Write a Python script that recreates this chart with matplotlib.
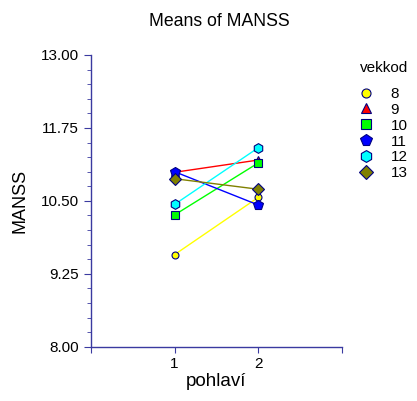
import matplotlib
matplotlib.use("Agg")
import matplotlib.pyplot as plt
from matplotlib.lines import Line2D
from matplotlib.ticker import MultipleLocator

plt.rcParams['font.family'] = ['Liberation Sans', 'DejaVu Sans']

pohlavi = [1, 2]
vekkod = ['8', '9', '10', '11', '12', '13']
means = [
    [9.58, 10.56],
    [10.99, 11.20],
    [10.26, 11.15],
    [11.00, 10.43],
    [10.44, 11.41],
    [10.88, 10.70],
]
colors = ['#ffff00', '#ff0000', '#00ff00', '#0000ff', '#00ffff', '#808000']
markers = ['o', '^', 's', 'p', 'h', 'D']
sizes = [5, 6, 5.5, 7, 7, 6]

axcol = '#3a3aa0'

fig = plt.figure(figsize=(4.17, 4.01), dpi=100)
ax = fig.add_axes([0.218, 0.135, 0.602, 0.728])

for i in range(len(vekkod)):
    ax.plot(pohlavi, means[i], color=colors[i], lw=1, marker=markers[i],
            ms=sizes[i], mfc=colors[i], mec='#000080', mew=0.8)

ax.set_xlim(0, 3)
ax.set_ylim(8, 13)
ax.set_xticks([0, 1, 2, 3])
ax.set_xticklabels(['', '1', '2', ''])
ax.set_yticks([8, 9.25, 10.5, 11.75, 13])
ax.set_yticklabels(['8.00', '9.25', '10.50', '11.75', '13.00'])
ax.yaxis.set_minor_locator(MultipleLocator(0.25))
for s in ['top', 'right']:
    ax.spines[s].set_visible(False)
for s in ['left', 'bottom']:
    ax.spines[s].set_color(axcol)
    ax.spines[s].set_linewidth(1)
ax.tick_params(axis='both', which='both', color=axcol, labelsize=11)
ax.tick_params(axis='y', which='major', length=5)
ax.tick_params(axis='y', which='minor', length=3)
ax.tick_params(axis='x', length=4)

ax.set_ylabel('MANSS', fontsize=13, labelpad=9)
ax.set_xlabel('pohlaví', fontsize=13.5, labelpad=1)
fig.suptitle('Means of MANSS', x=0.525, y=0.968, fontsize=12.7)

handles = [Line2D([], [], ls='none', marker=markers[i], ms=sizes[i] + 1.5,
                  mfc=colors[i], mec='#000080', mew=0.8)
           for i in range(len(vekkod))]
fig.text(360 / 417, 1 - 68 / 401, 'vekkod', fontsize=11, va='center', ha='left')
leg = fig.legend(handles, vekkod, loc='upper left',
                 bbox_to_anchor=(0.86, 1 - 87 / 401), frameon=False,
                 fontsize=11, handlelength=1.0, handletextpad=1.1,
                 labelspacing=0.12, borderaxespad=0, borderpad=0)

fig.savefig('out.png', dpi=100)
